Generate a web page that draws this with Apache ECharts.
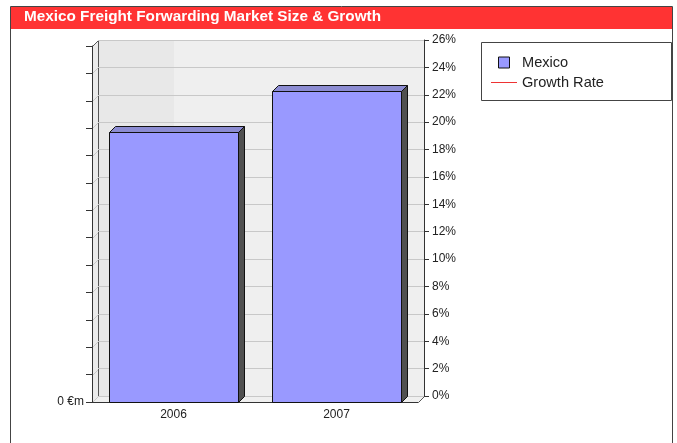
<!DOCTYPE html>
<html><head><meta charset="utf-8">
<script src="https://cdn.jsdelivr.net/npm/echarts@6/dist/echarts.min.js"></script>
<style>html,body{margin:0;padding:0;background:#fff}#c{width:677px;height:443px}</style>
</head><body><div id="c"></div>
<script>
// ---- data ----
const categories = ['2006', '2007'];
const mexicoValues = [197, 227];          // €m (left axis has no readable scale)
const growthRates = [null, 15.2];         // % (no visible line in reference)
const leftAxisMax = 260, leftAxisInterval = 20;
const rightAxisMax = 26, rightAxisInterval = 2;
const titleText = 'Mexico Freight Forwarding Market Size & Growth';

const FONT = '"Liberation Sans", Arial, sans-serif';
const RED = '#ee3333';
const D = 6; // 3D depth offset in px
const px = v => Math.round(v) + 0.5;

const chart = echarts.init(document.getElementById('c'), null, {renderer: 'canvas'});

function wallsRender(params, api) {
  const cs = params.coordSys;
  const x = px(cs.x), y = px(cs.y), r = px(cs.x + cs.width), b = px(cs.y + cs.height);
  const splitX = Math.round(api.coord([0, 0])[0] - D);
  const ch = [];
  ch.push({type: 'rect', shape: {x: x, y: y, width: r - x, height: b - y}, style: {fill: '#efefef'}});
  ch.push({type: 'rect', shape: {x: x, y: y, width: splitX - x, height: b - y}, style: {fill: '#e8e8e8'}});
  ch.push({type: 'polygon', shape: {points: [[x - D, y + D], [x, y], [x, b], [x - D, b + D]]}, style: {fill: '#ebebeb'}});
  ch.push({type: 'polygon', shape: {points: [[x - D, b + D], [x, b], [r, b], [r - D, b + D]]}, style: {fill: '#efefef'}});
  for (let v = 0; v <= rightAxisMax; v += rightAxisInterval) {
    const yy = px(api.coord([0, v])[1]);
    ch.push({type: 'line', shape: {x1: x - D, y1: yy + D, x2: x, y2: yy}, style: {stroke: '#c8c8c8', lineWidth: 1}});
  }
  ch.push({type: 'line', shape: {x1: x, y1: y, x2: r, y2: y}, style: {stroke: '#555', lineWidth: 1}});
  ch.push({type: 'line', shape: {x1: x, y1: y, x2: x, y2: b}, style: {stroke: '#555', lineWidth: 1}});
  ch.push({type: 'line', shape: {x1: x - D, y1: y + D, x2: x, y2: y}, style: {stroke: '#555', lineWidth: 1}});
  ch.push({type: 'line', shape: {x1: r - D, y1: b + D, x2: r, y2: b}, style: {stroke: '#555', lineWidth: 1}});
  return {type: 'group', children: ch};
}

function barRender(params, api) {
  const xi = api.value(0), v = api.value(1);
  const t = api.coord([xi, v]), bs = api.coord([xi, 0]);
  const bw = api.size([1, 0])[0] * 0.79;
  const l = px(t[0] - bw / 2), r = px(t[0] + bw / 2);
  const top = px(t[1]), bot = px(bs[1]);
  return {type: 'group', children: [
    {type: 'polygon', shape: {points: [[r, top], [r + D, top - D], [r + D, bot - D], [r, bot]]},
      style: {fill: '#505050', stroke: '#111', lineWidth: 1}},
    {type: 'polygon', shape: {points: [[l, top], [l + D, top - D], [r + D, top - D], [r, top]]},
      style: {fill: '#8c8cd2', stroke: '#111', lineWidth: 1}},
    {type: 'rect', shape: {x: l, y: top, width: r - l, height: bot - top},
      style: {fill: '#9999ff', stroke: '#111', lineWidth: 1}}
  ]};
}

const option = {
  animation: false,
  textStyle: {fontFamily: FONT},
  title: {
    text: titleText, left: 24, top: 9, padding: 0,
    textStyle: {color: '#ffffff', fontWeight: 'bold', fontSize: 15.3, fontFamily: FONT}
  },
  graphic: [
    {type: 'rect', z: 0, shape: {x: 10.5, y: 6.5, width: 662, height: 520}, style: {fill: null, stroke: '#444', lineWidth: 1}},
    {type: 'rect', z: 1, shape: {x: 11, y: 7, width: 661, height: 22}, style: {fill: '#ff3333'}},
    {type: 'rect', z: 1, shape: {x: 481.5, y: 42.5, width: 190, height: 58}, style: {fill: '#ffffff', stroke: '#444', lineWidth: 1}}
  ],
  legend: {
    orient: 'vertical', left: 491, top: 55, padding: 0, itemGap: 5,
    itemWidth: 26, itemHeight: 11, symbolKeepAspect: true,
    textStyle: {fontSize: 14.6, color: '#222', fontFamily: FONT},
    data: [
      {name: 'Mexico', icon: 'path://M0,0H10V10H0Z', itemStyle: {color: '#9999ff', borderColor: '#111', borderWidth: 1}},
      {name: 'Growth Rate', icon: 'path://M0,0H26V1H0Z',
        itemStyle: {color: RED, borderColor: RED, borderWidth: 0, opacity: 1},
        lineStyle: {color: RED, width: 1}}
    ]
  },
  grid: [
    {left: 98, right: 253, top: 40, bottom: 47},
    {left: 92, right: 259, top: 46, bottom: 41}
  ],
  xAxis: [
    {type: 'category', gridIndex: 0, data: categories, show: false},
    {type: 'category', gridIndex: 1, data: categories, position: 'bottom',
      axisLine: {lineStyle: {color: '#333'}},
      axisTick: {alignWithLabel: true, length: 5, lineStyle: {color: '#333'}},
      axisLabel: {fontSize: 12, color: '#222', margin: 7}}
  ],
  yAxis: [
    {type: 'value', gridIndex: 1, position: 'left', min: 0, max: leftAxisMax, interval: leftAxisInterval,
      axisLine: {show: true, lineStyle: {color: '#333'}},
      axisTick: {show: true, length: 6, lineStyle: {color: '#333'}},
      axisLabel: {fontSize: 12, color: '#222', margin: 8, formatter: v => (v === 0 ? '0 €m' : '')},
      splitLine: {show: false}},
    {type: 'value', gridIndex: 0, position: 'right', min: 0, max: rightAxisMax, interval: rightAxisInterval,
      axisLine: {show: true, lineStyle: {color: '#333'}},
      axisTick: {show: true, length: 5, lineStyle: {color: '#333'}},
      axisLabel: {fontSize: 12, color: '#222', margin: 8, formatter: '{value}%'},
      splitLine: {show: true, lineStyle: {color: '#c8c8c8'}}}
  ],
  series: [
    {type: 'custom', name: 'walls', xAxisIndex: 0, yAxisIndex: 1, z: -1, silent: true,
      renderItem: wallsRender, data: [[0, 0]]},
    {type: 'custom', name: 'Mexico', xAxisIndex: 1, yAxisIndex: 0, z: 3,
      itemStyle: {color: '#9999ff'},
      renderItem: barRender, encode: {x: 0, y: 1},
      data: categories.map((c, i) => [i, mexicoValues[i]])},
    {type: 'line', name: 'Growth Rate', xAxisIndex: 0, yAxisIndex: 1, z: 4,
      symbol: 'none', color: RED, itemStyle: {color: RED}, lineStyle: {color: RED, width: 1},
      data: growthRates}
  ]
};
chart.setOption(option);
</script>
</body></html>
